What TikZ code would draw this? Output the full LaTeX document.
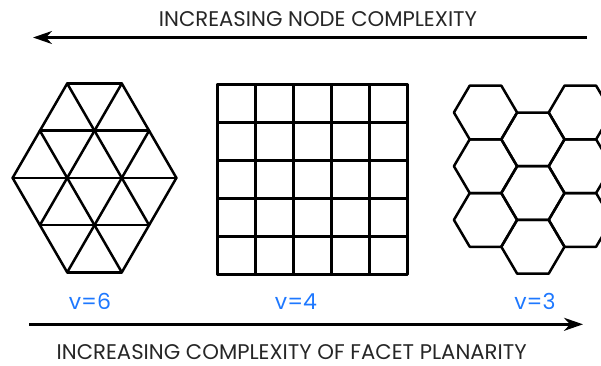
\documentclass[tikz,border=0pt]{standalone}
\usepackage{fontspec}
\setmainfont{Poppins}
\usetikzlibrary{arrows.meta}
\definecolor{vblue}{RGB}{30,120,255}
\tikzset{
  mesh/.style={line width=2.5pt, line join=round, line cap=round},
  axis/.style={line width=2.6pt, -{Stealth[length=19pt,width=13pt,inset=6pt]}},
  caption/.style={anchor=base, inner sep=0pt, font=\fontsize{21.2}{21.2}\selectfont, text=black!85},
  vlabel/.style={anchor=base, inner sep=0pt, font=\fontsize{22}{22}\selectfont, text=vblue}
}
\begin{document}
\begin{tikzpicture}[x=1pt,y=-1pt]
\useasboundingbox (0,0) rectangle (601,365);
% arrows
\coordinate (tr) at (587,37.5);
\coordinate (tl) at (33,37.5);
\coordinate (bl) at (29,324.3);
\coordinate (br) at (583,324.3);
\draw[axis] (tr) -- (tl);
\draw[axis] (bl) -- (br);
\node[caption] (top) at (318,26.7) {INCREASING NODE COMPLEXITY};
\node[caption] (bot) at (291.7,359.8) {INCREASING COMPLEXITY OF FACET PLANARITY};
\node[vlabel] (v6) at (90,309) {v=6};
\node[vlabel] (v4) at (296,309) {v=4};
\node[vlabel] (v3) at (535,309) {v=3};
% triangle lattice
\foreach \u in {-3,...,3}{
  \foreach \r in {0,...,4}{
    \coordinate (t\u_\r) at ({94.5+\u*27.3},{83.5+\r*47.2});
  }
}
\draw[mesh] (t-1_0) -- (t1_0) (t-2_1) -- (t2_1) (t-3_2) -- (t3_2) (t-2_3) -- (t2_3) (t-1_4) -- (t1_4);
\draw[mesh] (t-3_2) -- (t-1_4) (t-2_1) -- (t1_4) (t-1_0) -- (t2_3) (t1_0) -- (t3_2);
\draw[mesh] (t3_2) -- (t1_4) (t2_1) -- (t-1_4) (t1_0) -- (t-2_3) (t-1_0) -- (t-3_2);
% square grid
\foreach \i in {0,...,5}{
  \draw[mesh] ({217.3+\i*38},84.3) -- ({217.3+\i*38},274.3);
  \draw[mesh] (217.3,{84.3+\i*38}) -- (407.3,{84.3+\i*38});
}
% hexagon lattice
\begin{scope}
\clip (430,60) rectangle (601,290);
\foreach \c in {0,1,2}{
  \foreach \k in {0,1,2}{
    \pgfmathsetmacro{\hx}{485.5+\c*47.4}
    \pgfmathsetmacro{\hy}{112.5+\k*53.7+mod(\c,2)*26.85}
    \draw[mesh] (\hx+31.6,\hy) -- (\hx+15.8,\hy-26.85) -- (\hx-15.8,\hy-26.85) -- (\hx-31.6,\hy) -- (\hx-15.8,\hy+26.85) -- (\hx+15.8,\hy+26.85) -- cycle;
  }
}
\end{scope}
\end{tikzpicture}
\end{document}
